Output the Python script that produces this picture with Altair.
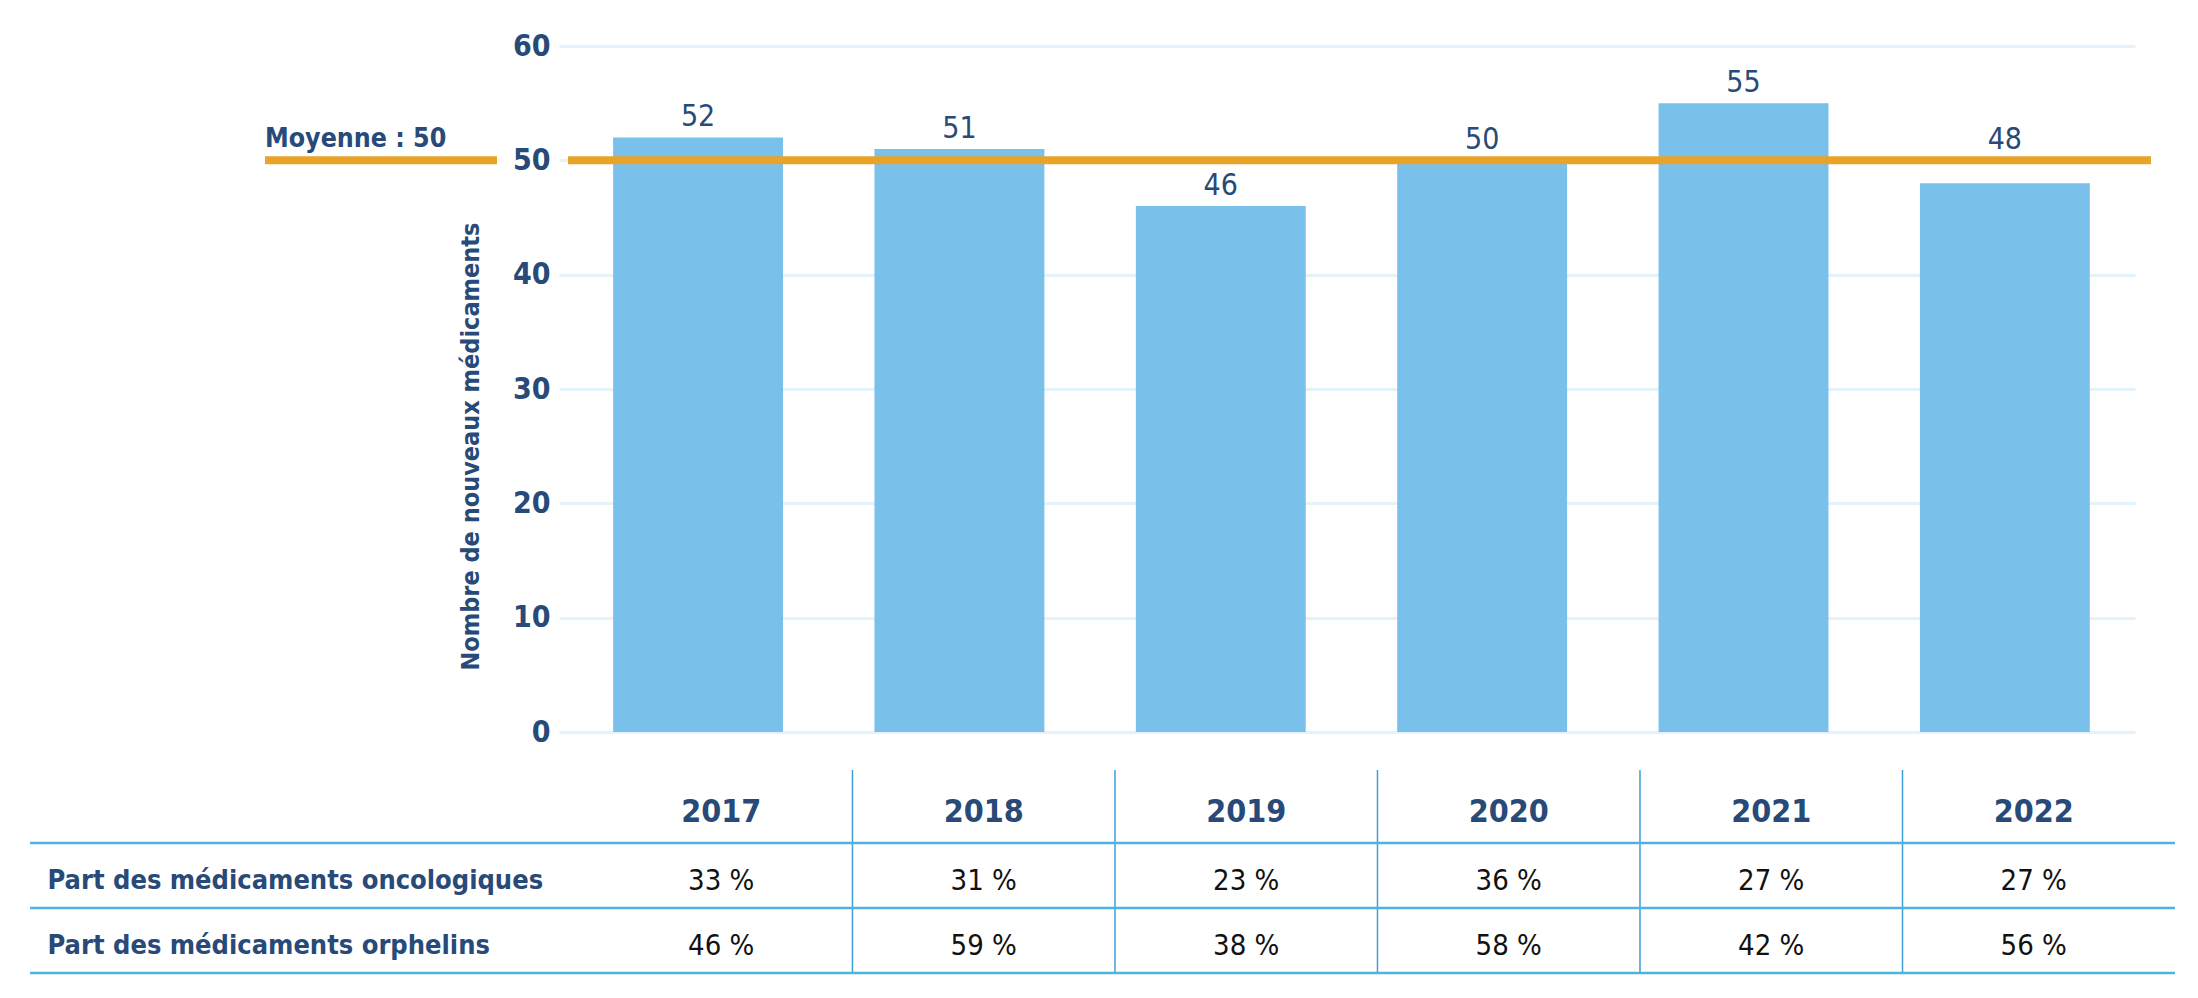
import altair as alt
import pandas as pd

# ---- data ----
years = ["2017", "2018", "2019", "2020", "2021", "2022"]
new_drugs = [52, 51, 46, 50, 55, 48]
onco_share = [33, 31, 23, 36, 27, 27]
orphan_share = [46, 59, 38, 58, 42, 56]
average = [50]
average_label = ["Moyenne : 50"]
y_title = "Nombre de nouveaux médicaments"
row_labels = ["Part des médicaments oncologiques", "Part des médicaments orphelins"]
y_ticks = [0, 10, 20, 30, 40, 50, 60]

# ---- style ----
FONT = "DejaVu Sans Condensed, Liberation Sans Narrow, Roboto, sans-serif"
DARK = "#284A79"
BAR = "#79C0EA"
ORANGE = "#E8A328"
GRID = "#E3F2FB"
LINE = "#4DB2E2"
SEP = "#3E9ED8"

bars_df = pd.DataFrame({"year": years, "n": new_drugs})
mean_df = pd.DataFrame({"mean": average, "label": average_label})

x_top = alt.X("year:O", scale=alt.Scale(paddingInner=0.35, paddingOuter=0.19, align=0.545),
              axis=None)
y_axis = alt.Axis(values=y_ticks, title=y_title, grid=True, gridColor=GRID,
                  gridWidth=3, domain=False, ticks=False, labelPadding=9,
                  labelFont=FONT, labelFontSize=30, labelFontWeight="bold",
                  labelColor=DARK,
                  titleFont=FONT, titleFontSize=25, titleFontWeight="bold",
                  titleColor=DARK, titleAngle=-90, titleX=-89, titleY=400,
                  titleAlign="center", titleBaseline="middle")
y_top = alt.Y("n:Q", scale=alt.Scale(domain=[0, 60]), axis=y_axis)

bars = alt.Chart(bars_df).mark_bar(color=BAR).encode(x=x_top, y=y_top)

# labels that would collide with the average line are lifted above it
avg = average[0]
bar_labels = alt.Chart(bars_df).transform_calculate(
    pos=f"(datum.n > {avg} - 3 && datum.n < {avg}) ? {avg} : datum.n"
).mark_text(
    baseline="alphabetic", dy=-11, fontSize=30, font=FONT, color=DARK
).encode(x=alt.X("year:O"), y=alt.Y("pos:Q"), text="n:Q")

mean_right = alt.Chart(mean_df).mark_rule(color=ORANGE, strokeWidth=8).encode(
    y=alt.Y("mean:Q"), x=alt.value(9), x2=alt.value(1592))
mean_left = alt.Chart(mean_df).mark_rule(color=ORANGE, strokeWidth=8).encode(
    y=alt.Y("mean:Q"), x=alt.value(-294), x2=alt.value(-62))
mean_text = alt.Chart(mean_df).mark_text(
    align="left", baseline="alphabetic", dy=-13, fontSize=26.5,
    fontWeight="bold", font=FONT, color=DARK
).encode(y=alt.Y("mean:Q"), x=alt.value(-294), text="label:N")

top = alt.layer(bars, mean_right, mean_left, mean_text, bar_labels).properties(
    width=1576, height=686)

# ---- table ----
rows = ["header"] + row_labels
recs = []
for i, yr in enumerate(years):
    recs.append({"year": yr, "row": "header", "txt": yr})
    recs.append({"year": yr, "row": row_labels[0], "txt": f"{onco_share[i]} %"})
    recs.append({"year": yr, "row": row_labels[1], "txt": f"{orphan_share[i]} %"})
table_df = pd.DataFrame(recs)
sep_df = pd.DataFrame({"year": years[1:]})
hline_df = pd.DataFrame({"row": row_labels})
hline_bottom_df = pd.DataFrame({"row": [row_labels[-1]]})

TW = 1616
x_tab = alt.X("year:O", scale=alt.Scale(domain=years, paddingInner=0,
                                        paddingOuter=0.078, align=0.756),
              axis=None)
y_tab_axis = alt.Axis(title=None, domain=False, ticks=False, grid=False,
                      labelExpr="datum.value == 'header' ? '' : datum.value",
                      labelAlign="left", labelPadding=512, labelOffset=5,
                      labelFont=FONT, labelFontSize=27, labelFontWeight="bold",
                      labelColor=DARK, labelLimit=0)
y_tab = alt.Y("row:N", scale=alt.Scale(domain=rows, paddingInner=0, paddingOuter=0),
              axis=y_tab_axis)

head_text = alt.Chart(table_df).transform_filter(
    alt.datum.row == "header"
).mark_text(fontSize=32, fontWeight="bold", font=FONT, color=DARK,
            baseline="middle", dy=1).encode(x=x_tab, y=y_tab, text="txt:N")
val_text = alt.Chart(table_df).transform_filter(
    alt.datum.row != "header"
).mark_text(fontSize=29, font=FONT, color="#111111",
            baseline="middle", dy=5).encode(x=alt.X("year:O"), y=alt.Y("row:N"), text="txt:N")
seps = alt.Chart(sep_df).mark_rule(color=SEP, strokeWidth=1.5).encode(
    x=alt.X("year:O", bandPosition=0),
    y=alt.value(-8), y2=alt.value(195))
hlines = alt.Chart(hline_df).mark_rule(color=LINE, strokeWidth=2.5).encode(
    y=alt.Y("row:N", bandPosition=0),
    x=alt.value(-529), x2=alt.value(TW))
hline_bot = alt.Chart(hline_bottom_df).mark_rule(color=LINE, strokeWidth=2.5).encode(
    y=alt.Y("row:N", bandPosition=1),
    x=alt.value(-529), x2=alt.value(TW))

table = alt.layer(head_text, val_text, seps, hlines, hline_bot).properties(
    width=TW, height=195)

chart = alt.vconcat(top, table, spacing=22).properties(
    padding={"left": 20, "top": 23, "right": 8, "bottom": 8},
    background="white"
).configure_view(stroke=None)

chart.save("out.html", embed_options={"renderer": "svg", "actions": False})
